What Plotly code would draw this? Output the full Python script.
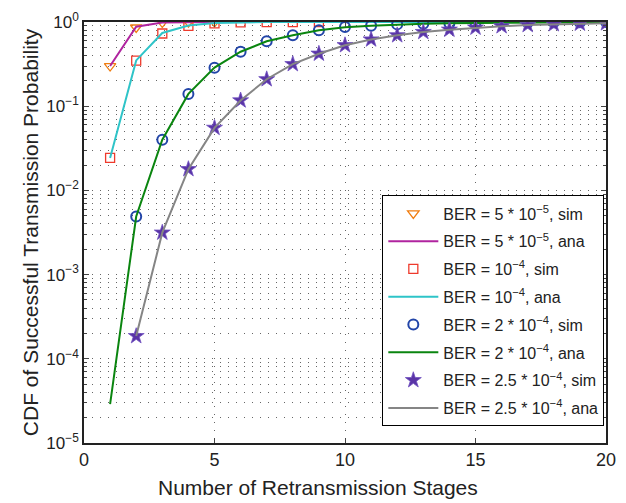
import plotly.graph_objects as go

stages = list(range(1, 21))

# BER = 5e-5
sim_5e5_x = [1, 2, 3, 4, 5]
sim_5e5_y = [0.30, 0.86, 0.985, 0.997, 0.999]
ana_5e5_y = [0.30, 0.88, 0.985, 0.997, 0.999, 1.0, 1.0, 1.0, 1.0, 1.0,
             1.0, 1.0, 1.0, 1.0, 1.0, 1.0, 1.0, 1.0, 1.0, 1.0]

# BER = 1e-4
sim_1e4_x = [1, 2, 3, 4, 5, 6, 7, 8, 9]
sim_1e4_y = [0.0243, 0.347, 0.73, 0.90, 0.965, 0.99, 0.997, 0.999, 1.0]
ana_1e4_y = [0.0243, 0.35, 0.74, 0.91, 0.97, 0.99, 0.997, 0.999, 1.0, 1.0,
             1.0, 1.0, 1.0, 1.0, 1.0, 1.0, 1.0, 1.0, 1.0, 1.0]

# BER = 2e-4
sim_2e4_x = list(range(2, 21))
sim_2e4_y = [0.0049, 0.040, 0.140, 0.287, 0.443, 0.591, 0.695, 0.796, 0.873,
             0.905, 0.937, 0.952, 0.968, 0.977, 0.984, 0.989, 0.992, 0.995, 0.997]
ana_2e4_y = [2.9e-5, 0.0049, 0.040, 0.140, 0.287, 0.443, 0.591, 0.695, 0.796, 0.865,
             0.905, 0.937, 0.955, 0.968, 0.977, 0.984, 0.989, 0.992, 0.995, 0.997]

# BER = 2.5e-4
sim_25e4_x = list(range(2, 21))
sim_25e4_y = [1.86e-4, 3.15e-3, 0.0179, 0.0553, 0.117, 0.209, 0.316, 0.42, 0.53,
              0.62, 0.695, 0.76, 0.81, 0.857, 0.89, 0.92, 0.94, 0.955, 0.965]
ana_25e4_x = list(range(2, 21))
ana_25e4_y = sim_25e4_y

x_title = "Number of Retransmission Stages"
y_title = "CDF of Successful Transmission Probability"

font_family = "Liberation Sans, Arial, Helvetica, sans-serif"

fig = go.Figure()

fig.add_trace(go.Scatter(x=sim_5e5_x, y=sim_5e5_y, mode="markers", legendgroup="a",
                         name="BER = 5 * 10<sup>−5</sup>, sim",
                         marker=dict(symbol="triangle-down-open", size=10, color="#F07D10",
                                     line=dict(width=1.3))))
fig.add_trace(go.Scatter(x=stages, y=ana_5e5_y, mode="lines", legendgroup="b",
                         name="BER = 5 * 10<sup>−5</sup>, ana",
                         line=dict(color="#B0249F", width=2)))
fig.add_trace(go.Scatter(x=sim_1e4_x, y=sim_1e4_y, mode="markers", legendgroup="c",
                         name="BER = 10<sup>−4</sup>, sim",
                         marker=dict(symbol="square-open", size=9, color="#EE3A2C",
                                     line=dict(width=1.3))))
fig.add_trace(go.Scatter(x=stages, y=ana_1e4_y, mode="lines", legendgroup="d",
                         name="BER = 10<sup>−4</sup>, ana",
                         line=dict(color="#2EC4C8", width=2)))
fig.add_trace(go.Scatter(x=sim_2e4_x, y=sim_2e4_y, mode="markers", legendgroup="e",
                         name="BER = 2 * 10<sup>−4</sup>, sim",
                         marker=dict(symbol="circle-open", size=10, color="#2245A8",
                                     line=dict(width=2))))
fig.add_trace(go.Scatter(x=stages, y=ana_2e4_y, mode="lines", legendgroup="f",
                         name="BER = 2 * 10<sup>−4</sup>, ana",
                         line=dict(color="#0A850F", width=2)))
fig.add_trace(go.Scatter(x=sim_25e4_x, y=sim_25e4_y, mode="markers", legendgroup="g",
                         name="BER = 2.5 * 10<sup>−4</sup>, sim",
                         marker=dict(symbol="star", size=12, color="#5A34A6",
                                     line=dict(width=0.8, color="#7050C0"))))
fig.add_trace(go.Scatter(x=ana_25e4_x, y=ana_25e4_y, mode="lines", legendgroup="h",
                         name="BER = 2.5 * 10<sup>−4</sup>, ana",
                         line=dict(color="#858585", width=2)))

major_vals = [1e-5, 1e-4, 1e-3, 1e-2, 1e-1, 1]
major_text = ["10<sup>−5</sup>", "10<sup>−4</sup>", "10<sup>−3</sup>",
              "10<sup>−2</sup>", "10<sup>−1</sup>", "10<sup>0</sup>"]
minor_vals = [k * 10.0 ** e for e in range(-5, 0) for k in range(2, 10)]

grid_color = "#666"
grid_dash = "1px,7px"

fig.update_layout(
    width=626, height=503,
    margin=dict(l=84, r=10, t=18, b=60),
    paper_bgcolor="white", plot_bgcolor="white",
    font=dict(family=font_family, size=16, color="#222"),
    showlegend=True,
    legend=dict(x=0.5715, y=0.588, xanchor="left", yanchor="top",
                bgcolor="white", bordercolor="black", borderwidth=1,
                font=dict(size=16, family=font_family), itemwidth=50,
                tracegroupgap=4, traceorder="grouped"),
    annotations=[
        dict(text=x_title, xref="paper", yref="paper", x=0.449, y=-0.106,
             xanchor="center", yanchor="middle", showarrow=False,
             font=dict(size=21, family=font_family, color="#222")),
    ],
)

fig.update_xaxes(
    range=[0, 20], tickvals=[0, 5, 10, 15, 20], ticks="inside", ticklen=5,
    showline=True, linecolor="#222", linewidth=1.5, mirror="ticks",
    showgrid=True, gridcolor=grid_color, griddash=grid_dash, gridwidth=1,
    zeroline=False,
    tickfont=dict(size=18),
)
fig.update_yaxes(
    type="log", range=[-5, 0], tickvals=major_vals, ticktext=major_text,
    ticks="inside", ticklen=5,
    showline=True, linecolor="#222", linewidth=1.5, mirror="ticks",
    showgrid=True, gridcolor=grid_color, griddash=grid_dash, gridwidth=1,
    zeroline=False,
    minor=dict(tickvals=minor_vals, ticks="inside", ticklen=3, showgrid=True,
               gridcolor=grid_color, griddash=grid_dash, gridwidth=1),
    title=dict(text=y_title, font=dict(size=21), standoff=2),
    tickfont=dict(size=17),
)

fig.write_html("out.html")
